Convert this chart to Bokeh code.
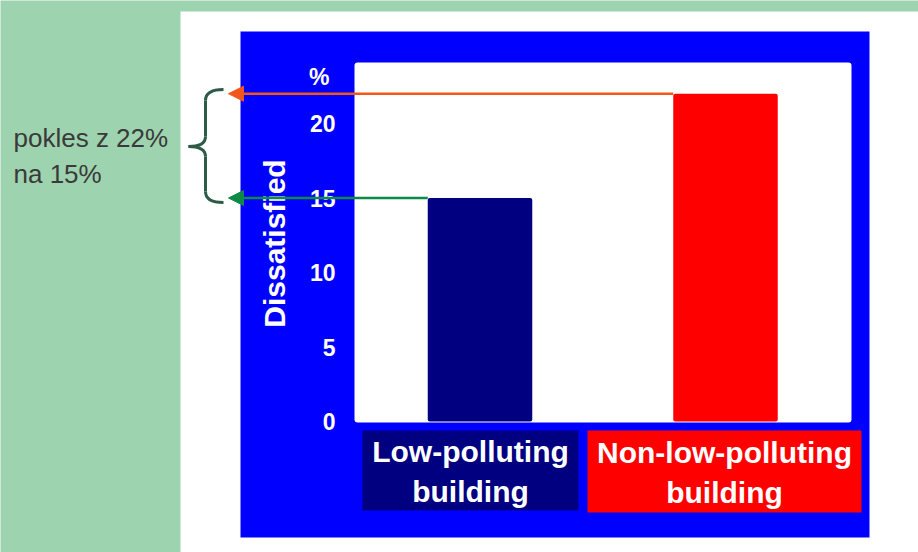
import numpy as np
from bokeh.plotting import figure
from bokeh.models import Range1d, Arrow, NormalHead
from bokeh.core.properties import value
from bokeh.embed import file_html
from bokeh.resources import INLINE

# ---------------- data ----------------
categories = ["Low-polluting\nbuilding", "Non-low-polluting\nbuilding"]
dissatisfied = [15, 22]
bar_colors = ["#000080", "#FF0000"]
y_ticks = [0, 5, 10, 15, 20]
y_tick_labels = ["0", "5", "10", "15", "20"]
y_axis_label = "Dissatisfied"
y_unit = "%"
note_lines = ["pokles z 22%", "na 15%"]
arrow_colors = ["#0E8A47", "#F2561D"]

# ---------------- layout constants (page pixels) ----------------
W, H = 918, 552
OFF = 0
GREEN = "#9DD3AF"
BLUE = "#0000FF"
ZERO_Y = 421.0
PX_PER_UNIT = 14.9
CAT0_X = 479.5
CAT_STEP = 245.5
BAR_W_PX = 104.5
ARROW_TIP_X = 228.0
FONT = value("Liberation Sans")

p = figure(width=W, height=H, output_backend="svg", toolbar_location=None,
           x_axis_type=None, y_axis_type=None,
           x_range=Range1d(OFF, OFF + W), y_range=Range1d(OFF + H, OFF),
           min_border=0, outline_line_color=None,
           background_fill_color=GREEN, border_fill_color=GREEN)
p.extra_y_ranges = {"val": Range1d((ZERO_Y - (OFF + H)) / PX_PER_UNIT,
                                   (ZERO_Y - OFF) / PX_PER_UNIT)}
p.extra_x_ranges = {"cat": Range1d((OFF - CAT0_X) / CAT_STEP,
                                   (OFF + W - CAT0_X) / CAT_STEP)}

# panels
p.quad(left=[180], right=[940], top=[11], bottom=[570], fill_color="white", line_color=None)
p.quad(left=[240], right=[869], top=[31], bottom=[537], fill_color=BLUE, line_color=None)
p.quad(left=[354], right=[851], top=[62], bottom=[422], fill_color="white", line_color=None,
       border_radius=3)

# category label boxes
p.quad(left=[362, 587], right=[578, 861], top=[430, 430], bottom=[510, 512],
       fill_color=bar_colors, line_color=None)

# bars
bw = BAR_W_PX / CAT_STEP
p.vbar(x=list(range(len(categories))), top=dissatisfied, bottom=0, width=bw,
       fill_color=bar_colors, line_color=None, border_radius=2,
       x_range_name="cat", y_range_name="val")

# y tick labels
p.text(x=[335] * len(y_ticks), y=y_ticks, text=y_tick_labels, y_range_name="val",
       text_align="right", text_baseline="middle", text_color="white",
       text_font=FONT, text_font_style="bold", text_font_size="23px")
p.text(x=[329], y=[76], text=[y_unit], text_align="right", text_baseline="middle",
       text_color="white", text_font=FONT, text_font_style="bold", text_font_size="23px")

# y axis label
p.text(x=[274], y=[243], text=[y_axis_label], angle=np.pi / 2,
       text_align="center", text_baseline="middle", text_color="white",
       text_font=FONT, text_font_style="bold", text_font_size="30px")

# category labels
p.text(x=[470, 724], y=[471, 472], text=categories, text_align="center",
       text_baseline="middle", text_color="white", text_font=FONT,
       text_font_style="bold", text_font_size="30px", text_line_height=1.22)

# arrows from bar tops
tip = (ARROW_TIP_X - CAT0_X) / CAT_STEP
for i, c in enumerate(arrow_colors):
    p.add_layout(Arrow(end=NormalHead(size=15, fill_color=c, line_color=c),
                       x_start=i - bw / 2, y_start=dissatisfied[i],
                       x_end=tip, y_end=dissatisfied[i],
                       line_color=c, line_width=2.5,
                       x_range_name="cat", y_range_name="val"))

# brace
BR = "#2D5B47"
p.quadratic(x0=[223, 205, 188, 205], y0=[89, 136, 146, 191],
            x1=[205, 188, 205, 223], y1=[100, 146, 156, 202],
            cx=[205, 205, 205, 205], cy=[89, 146, 146, 202],
            line_color=BR, line_width=3)
p.segment(x0=[205, 205], y0=[100, 156], x1=[205, 205], y1=[136, 191],
          line_color=BR, line_width=3)

# note text
p.text(x=[13, 13], y=[137, 173], text=note_lines, text_align="left",
       text_baseline="alphabetic", text_color="#3A3A3A", text_font=FONT,
       text_font_size="26px")

html = file_html(p, INLINE, title="chart")
open("out.html", "w").write(html)
